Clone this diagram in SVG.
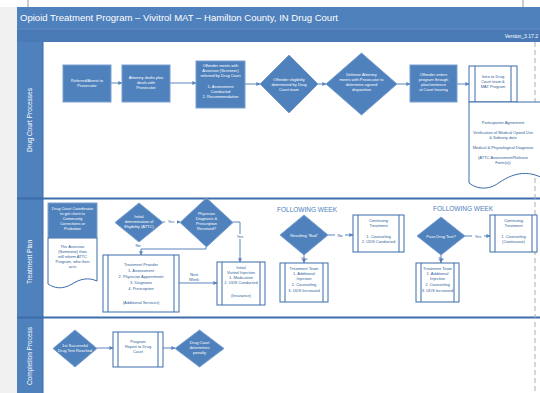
<svg xmlns="http://www.w3.org/2000/svg" width="540" height="393" viewBox="0 0 540 393">
<defs>
<marker id="ah" viewBox="0 0 6 6" refX="5.5" refY="3" markerWidth="4" markerHeight="4" orient="auto">
<path d="M0,0 L6,3 L0,6 Z" fill="#5a84bd"/>
</marker>
<style>
.box{fill:#4f81bd;stroke:#7aa0d0;stroke-width:1}
.pbox{fill:#fff;stroke:#3d6daa;stroke-width:1}
.ln{stroke:#3d6daa;stroke-width:1}
.t{font-family:"Liberation Sans",Arial,sans-serif;font-size:4px;fill:#fff;text-anchor:middle}
.td{fill:#2f5d99}
.conn{stroke:#5a84bd;stroke-width:1;fill:none;marker-end:url(#ah)}
.lbl{font-family:"Liberation Sans",Arial,sans-serif;font-size:4px;fill:#2f5d99;text-anchor:middle}
.lane{font-family:"Liberation Sans",Arial,sans-serif;font-size:6.5px;fill:#fff;text-anchor:middle}
.fw{font-family:"Liberation Sans",Arial,sans-serif;font-size:6.5px;fill:#4a7ebb;text-anchor:middle}
</style>
</defs>
<rect width="540" height="393" fill="#fff"/>
<rect x="0" y="7" width="17" height="386" fill="#f0f0f0"/>
<line x1="28" y1="0" x2="28" y2="7" stroke="#999" stroke-width="1"/>
<line x1="523" y1="0" x2="523" y2="7" stroke="#999" stroke-width="1"/>
<g id="header">
<rect x="17" y="7" width="523" height="22" fill="#4f81bd"/>
<rect x="17" y="29" width="523" height="13" fill="#4a7ab6"/>
<line x1="17" y1="29" x2="540" y2="29" stroke="#6f97c9" stroke-width="0.6"/>
<text x="20" y="21" font-family="Liberation Sans,Arial,sans-serif" font-size="8.8" fill="#fff" textLength="318" lengthAdjust="spacingAndGlyphs">Opioid Treatment Program – Vivitrol MAT – Hamilton County, IN Drug Court</text>
<text x="538" y="38" font-family="Liberation Sans,Arial,sans-serif" font-size="5" fill="#fff" text-anchor="end">Version_3.17.2</text>
</g>
<g id="lanes">
<rect x="17" y="42" width="26" height="351" fill="#4f81bd"/>
<line x1="43" y1="42" x2="43" y2="393" stroke="#3d6daa" stroke-width="1"/>
<line x1="17" y1="198.5" x2="540" y2="198.5" stroke="#3d6daa" stroke-width="2"/>
<line x1="17" y1="317.5" x2="540" y2="317.5" stroke="#3d6daa" stroke-width="2"/>
<line x1="535" y1="42" x2="535" y2="393" stroke="#aaa" stroke-width="1" stroke-dasharray="5,3"/>
<text class="lane" transform="translate(32,120) rotate(-90)">Drug Court Processes</text>
<text class="lane" transform="translate(32,262) rotate(-90)">Treatment Plan</text>
<text class="lane" transform="translate(32,356) rotate(-90)">Completion Process</text>
</g>
<g id="connectors">
<line class="conn" x1="111" y1="83" x2="122" y2="83"/>
<line class="conn" x1="170" y1="83" x2="196" y2="83"/>
<line class="conn" x1="245" y1="84" x2="260" y2="84"/>
<line class="conn" x1="318" y1="84" x2="326" y2="84"/>
<line class="conn" x1="397" y1="84" x2="410" y2="84"/>
<line class="conn" x1="457" y1="84" x2="469" y2="84"/>
<line class="conn" x1="163" y1="222" x2="180" y2="222"/>
<path class="conn" d="M206,247 V249 H141 V255"/>
<path class="conn" d="M233,222 H240 V262"/>
<line class="conn" x1="179" y1="283" x2="217" y2="283"/>
<line class="conn" x1="328" y1="235" x2="353" y2="235"/>
<line class="conn" x1="304" y1="255" x2="304" y2="263"/>
<line class="conn" x1="465" y1="236" x2="490" y2="236"/>
<line class="conn" x1="441" y1="255" x2="441" y2="263"/>
<line class="conn" x1="97" y1="348" x2="113" y2="348"/>
<line class="conn" x1="163" y1="348" x2="175" y2="348"/>
<rect x="165" y="219" width="12" height="5" fill="#fff"/>
<text class="lbl" x="171" y="223.3">Yes</text>
<text class="lbl" x="138" y="246.5">No</text>
<rect x="234" y="234" width="12" height="5" fill="#fff"/>
<text class="lbl" x="240" y="238">Yes</text>
<text class="lbl" x="194" y="276">Next</text>
<text class="lbl" x="194" y="280.5">Week</text>
<rect x="335" y="232.5" width="10" height="5" fill="#fff"/>
<text class="lbl" x="340" y="236.5">No</text>
<text class="lbl" x="304" y="259.5">Yes</text>
<rect x="472" y="233.5" width="12" height="5" fill="#fff"/>
<text class="lbl" x="478" y="237.5">Yes</text>
<text class="lbl" x="441" y="259.5">No</text>
</g>
<g id="n1">
<rect class="box" x="63" y="65" width="48" height="37"/>
<text class="t" x="87" y="82">Referred/Arrest to</text>
<text class="t" x="87" y="87">Prosecutor</text>
</g>
<g id="n2">
<rect class="box" x="122" y="65" width="48" height="37"/>
<text class="t" x="146" y="79">Attorney drafts plea</text>
<text class="t" x="146" y="84">deals with</text>
<text class="t" x="146" y="89">Prosecutor</text>
</g>
<g id="n3">
<rect class="box" x="196" y="61" width="49" height="47"/>
<text class="t" x="220.5" y="67">Offender meets with</text>
<text class="t" x="220.5" y="72">Assessor (Screener)</text>
<text class="t" x="220.5" y="77">referred by Drug Court</text>
<text class="t" x="220.5" y="88">1. Assessment</text>
<text class="t" x="220.5" y="93">Conducted</text>
<text class="t" x="220.5" y="98">2. Recommendation</text>
</g>
<g id="n4">
<polygon class="box" points="289,55 318,84 289,113 260,84"/>
<text class="t" x="289" y="81">Offender eligibility</text>
<text class="t" x="289" y="86">determined by Drug</text>
<text class="t" x="289" y="91">Court team</text>
</g>
<g id="n5">
<polygon class="box" points="361.5,53 397,84 361.5,115 326,84"/>
<text class="t" x="361.5" y="76">Defense Attorney</text>
<text class="t" x="361.5" y="81">meets with Prosecutor to</text>
<text class="t" x="361.5" y="86">determine agreed</text>
<text class="t" x="361.5" y="91">disposition</text>
</g>
<g id="n6">
<rect class="box" x="410" y="65" width="47" height="37"/>
<text class="t" x="433.5" y="76">Offender enters</text>
<text class="t" x="433.5" y="81">program through</text>
<text class="t" x="433.5" y="86">plea/sentence</text>
<text class="t" x="433.5" y="91">at Court hearing</text>
</g>
<g id="n7">
<rect class="pbox" x="469" y="66" width="48" height="36"/>
<line class="ln" x1="475" y1="66" x2="475" y2="102"/>
<line class="ln" x1="511" y1="66" x2="511" y2="102"/>
<text class="t td" x="493" y="78">Intro to Drug</text>
<text class="t td" x="493" y="83">Court team &amp;</text>
<text class="t td" x="493" y="88">MAT Program</text>
</g>
<g id="n8">
<path class="pbox" d="M469,102 H546 V180 C530,170 515,172 500,182 C490,190 478,190 469,183 Z"/>
<text class="t td" x="503" y="124">Participation Agreement</text>
<text class="t td" x="503" y="134">Verification of Medical Opioid Use</text>
<text class="t td" x="503" y="139">&amp; Sobriety date</text>
<text class="t td" x="503" y="149">Medical &amp; Physiological Diagnosis</text>
<text class="t td" x="503" y="159">(ATTC Assessment/Release</text>
<text class="t td" x="503" y="164">Form(s))</text>
</g>
<g id="n9">
<rect class="box" x="48" y="203" width="49" height="35"/>
<text class="t" x="72.5" y="210">Drug Court Coordinator</text>
<text class="t" x="72.5" y="215">to get client to</text>
<text class="t" x="72.5" y="220">Community</text>
<text class="t" x="72.5" y="225">Corrections or</text>
<text class="t" x="72.5" y="230">Probation</text>
</g>
<g id="n10">
<path class="pbox" d="M48,238 H97 V281 C88,277 80,279 72,284 C62,290 54,288 48,284 Z"/>
<text class="t td" x="72.5" y="248">The Assessor</text>
<text class="t td" x="72.5" y="253">(Someone) then</text>
<text class="t td" x="72.5" y="258">will inform ATTC</text>
<text class="t td" x="72.5" y="263">Program, who then</text>
<text class="t td" x="72.5" y="268">acts</text>
</g>
<g id="n11">
<polygon class="box" points="139,203 163,222.5 139,242 115,222.5"/>
<text class="t" x="139" y="218">Initial</text>
<text class="t" x="139" y="223">determination of</text>
<text class="t" x="139" y="228">Eligibility (ATTC)</text>
</g>
<g id="n12">
<polygon class="box" points="206.5,198 233,222.5 206.5,247 180,222.5"/>
<text class="t" x="206.5" y="215">Physician</text>
<text class="t" x="206.5" y="220">Diagnosis &amp;</text>
<text class="t" x="206.5" y="225">Prescription</text>
<text class="t" x="206.5" y="230">Received?</text>
</g>
<g id="n13">
<rect class="pbox" x="103" y="255" width="76" height="57"/>
<line class="ln" x1="108" y1="255" x2="108" y2="312"/>
<line class="ln" x1="174" y1="255" x2="174" y2="312"/>
<text class="t td" x="141" y="266">Treatment Provider</text>
<text class="t td" x="141" y="272">1. Assessment</text>
<text class="t td" x="141" y="278">2. Physician Appointment</text>
<text class="t td" x="141" y="284">3. Diagnosis</text>
<text class="t td" x="141" y="290">4. Prescription</text>
<text class="t td" x="141" y="304">(Additional Services)</text>
</g>
<g id="n14">
<rect class="pbox" x="217" y="262" width="48" height="43"/>
<line class="ln" x1="222" y1="262" x2="222" y2="305"/>
<line class="ln" x1="260" y1="262" x2="260" y2="305"/>
<text class="t td" x="241" y="269">Initial</text>
<text class="t td" x="241" y="274">Vivitrol Injection</text>
<text class="t td" x="241" y="279">1. Medication</text>
<text class="t td" x="241" y="284">2. UDS Conducted</text>
<text class="t td" x="241" y="297">(Insurance)</text>
</g>
<text class="fw" x="307" y="212">FOLLOWING WEEK</text>
<g id="n15">
<polygon class="box" points="304,215 328,235 304,255 280,235"/>
<text class="t" x="304" y="236.5">Resulting "Bad"</text>
</g>
<g id="n16">
<rect class="pbox" x="353" y="215" width="51" height="37"/>
<line class="ln" x1="358" y1="215" x2="358" y2="252"/>
<line class="ln" x1="399" y1="215" x2="399" y2="252"/>
<text class="t td" x="378.5" y="222">Continuing</text>
<text class="t td" x="378.5" y="227">Treatment</text>
<text class="t td" x="378.5" y="238">1. Counseling</text>
<text class="t td" x="378.5" y="243">2. UDS Conducted</text>
</g>
<g id="n17">
<rect class="pbox" x="280" y="263" width="48" height="39"/>
<line class="ln" x1="285" y1="263" x2="285" y2="302"/>
<line class="ln" x1="323" y1="263" x2="323" y2="302"/>
<text class="t td" x="304" y="270">Treatment Team</text>
<text class="t td" x="304" y="275">1. Additional</text>
<text class="t td" x="304" y="280">Injection</text>
<text class="t td" x="304" y="286">2. Counseling</text>
<text class="t td" x="304" y="292">3. UDS Increased</text>
</g>
<text class="fw" x="463" y="211">FOLLOWING WEEK</text>
<g id="n18">
<polygon class="box" points="441,217 465,236 441,255 417,236"/>
<text class="t" x="441" y="237.5">Pass Drug Test?</text>
</g>
<g id="n19">
<rect class="pbox" x="490" y="215" width="47" height="37"/>
<line class="ln" x1="495" y1="215" x2="495" y2="252"/>
<line class="ln" x1="532" y1="215" x2="532" y2="252"/>
<text class="t td" x="513.5" y="222">Continuing</text>
<text class="t td" x="513.5" y="227">Treatment</text>
<text class="t td" x="513.5" y="238">1. Counseling</text>
<text class="t td" x="513.5" y="243">(Continuous)</text>
</g>
<g id="n20">
<rect class="pbox" x="416" y="263" width="43" height="39"/>
<line class="ln" x1="421" y1="263" x2="421" y2="302"/>
<line class="ln" x1="454" y1="263" x2="454" y2="302"/>
<text class="t td" x="437.5" y="270">Treatment Team</text>
<text class="t td" x="437.5" y="275">1. Additional</text>
<text class="t td" x="437.5" y="280">Injection</text>
<text class="t td" x="437.5" y="286">2. Counseling</text>
<text class="t td" x="437.5" y="292">3. UDS Increased</text>
</g>
<g id="n21">
<polygon class="box" points="75,330 97,348.5 75,367 53,348.5"/>
<text class="t" x="75" y="347">1st Successful</text>
<text class="t" x="75" y="352">Drug Test Reached</text>
</g>
<g id="n22">
<rect class="pbox" x="113" y="332" width="50" height="35"/>
<line class="ln" x1="118" y1="332" x2="118" y2="367"/>
<line class="ln" x1="158" y1="332" x2="158" y2="367"/>
<text class="t td" x="138" y="343">Program</text>
<text class="t td" x="138" y="348">Report to Drug</text>
<text class="t td" x="138" y="353">Court</text>
</g>
<g id="n23">
<polygon class="box" points="199.5,330 224,348.5 199.5,367 175,348.5"/>
<text class="t" x="199.5" y="344">Drug Court</text>
<text class="t" x="199.5" y="349">determines</text>
<text class="t" x="199.5" y="354">penalty</text>
</g>
</svg>
